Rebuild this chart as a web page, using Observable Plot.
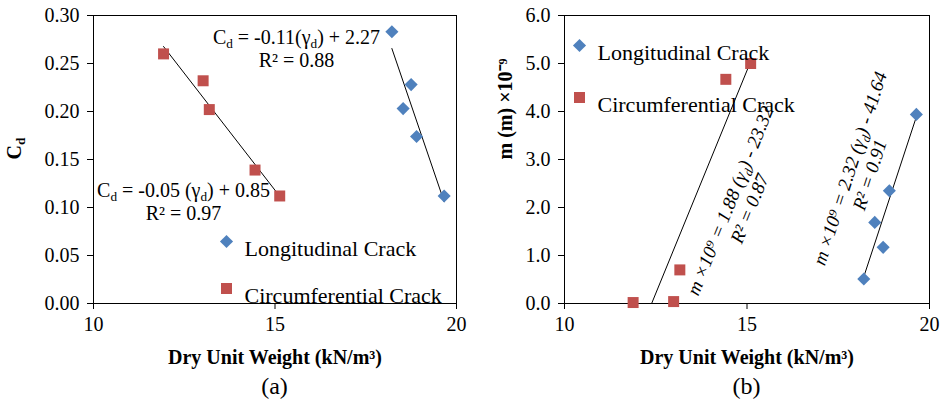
<!DOCTYPE html>
<html>
<head>
<meta charset="utf-8">
<script src="https://cdn.jsdelivr.net/npm/d3@7"></script>
<script src="https://cdn.jsdelivr.net/npm/@observablehq/plot@0.6"></script>
<style>
  html, body { margin: 0; padding: 0; background: #fff; }
  #wrap { display: flex; width: 943px; font-family: "Liberation Serif", serif; }
  #wrap svg, #wrap svg text, #wrap svg tspan { font-family: "Liberation Serif", serif !important; }
  .panel { display: flex; flex-direction: column; }
  .cap { text-align: center; font-size: 24px; line-height: 32px; color: #000; }
</style>
</head>
<body>
<div id="wrap"></div>
<script>
// ---------- data ----------
const seriesNames = ["Longitudinal Crack", "Circumferential Crack"];
const seriesColors = ["#4F81BD", "#C0504D"];
const seriesSymbols = ["diamond2", "square"];

const xTicks = [10, 15, 20];
const aYTicks = [0, 0.05, 0.10, 0.15, 0.20, 0.25, 0.30];
const bYTicks = [0, 1, 2, 3, 4, 5, 6];

// Panel (a): Cd vs dry unit weight
const aLongX = [18.22, 18.75, 18.53, 18.90, 19.66];
const aLongY = [0.283, 0.228, 0.203, 0.174, 0.112];
const aCircX = [11.93, 13.02, 13.19, 14.45, 15.13];
const aCircY = [0.260, 0.232, 0.202, 0.139, 0.112];

// Panel (b): m x 10^9 vs dry unit weight
const bLongX = [18.20, 18.50, 18.73, 18.90, 19.64];
const bLongY = [0.51, 1.69, 1.17, 2.35, 3.94];
const bCircX = [11.88, 12.99, 13.16, 14.42, 15.10];
const bCircY = [0.02, 0.04, 0.70, 4.67, 5.00];

const aEquations = ["Cd = -0.11(γd) + 2.27\nR² = 0.88", "Cd = -0.05 (γd) + 0.85\nR² = 0.97"];
const bEquations = ["m ×10⁹ = 1.88 (γd) - 23.32\nR² = 0.87", "m ×10⁹ = 2.32 (γd) - 41.64\nR² = 0.91"];

const xTitle = "Dry Unit Weight (kN/m³)";
const aYTitle = "Cd";
const bYTitle = "m (m) ×10⁻⁹";
const captions = ["(a)", "(b)"];

// ---------- helpers ----------
const FONT = '"Liberation Serif", serif';
const rows = (X, Y) => X.map((x, i) => ({x, y: Y[i]}));

function subscriptify(svg) {
  svg.querySelectorAll("text, tspan").forEach(el => {
    if (el.children.length) return;
    const s = el.textContent;
    if (!/[Cγ]d/.test(s)) return;
    const parts = s.split(/(?<=[Cγ])d/);
    el.textContent = "";
    parts.forEach((p, i) => {
      el.appendChild(document.createTextNode(p));
      if (i < parts.length - 1) {
        const t = document.createElementNS("http://www.w3.org/2000/svg", "tspan");
        t.setAttribute("baseline-shift", "-0.3em");
        t.setAttribute("font-size", "0.66em");
        t.textContent = "d";
        el.appendChild(t);
      }
    });
  });
}

function panel(cfg) {
  const long = rows(cfg.longX, cfg.longY);
  const circ = rows(cfg.circX, cfg.circY);
  const legend = seriesNames.flatMap((name, i) => [
    Plot.dot([name], {frameAnchor: "top-left", dx: cfg.legDx, dy: cfg.legDy + i * cfg.legGap,
      symbol: seriesSymbols[i], fill: seriesColors[i], r: i === 0 ? 5.9 : 6.2}),
    Plot.text([name], {frameAnchor: "top-left", dx: cfg.legDx + 18, dy: cfg.legDy - 1 + i * cfg.legGap,
      text: d => d, textAnchor: "start", fontSize: 22, fontFamily: FONT})
  ]);
  const eqs = cfg.equations.map((eq, i) =>
    Plot.text([eq], {frameAnchor: "top-left", dx: cfg.eqPos[i][0], dy: cfg.eqPos[i][1],
      text: d => d, textAnchor: "middle", lineAnchor: "middle",
      lineHeight: cfg.eqLineHeight, rotate: cfg.eqRotate[i], fontFamily: FONT,
      fontSize: cfg.eqFontSize, fontStyle: cfg.eqItalic ? "italic" : "normal"})
  );
  const svg = Plot.plot({
    width: cfg.width,
    height: 370,
    marginLeft: 93,
    marginTop: 15,
    marginRight: cfg.marginRight,
    marginBottom: 67,
    style: {fontFamily: FONT, fontSize: "20px", color: "#000", background: "#fff", overflow: "visible"},
    x: {domain: [10, 20], label: null},
    y: {domain: cfg.yDomain, label: null},
    marks: [
      Plot.axisX({ticks: xTicks, tickSize: 6, tickPadding: 7, label: null, fontSize: 20, fontFamily: FONT, tickFormat: d3.format("d")}),
      Plot.axisY({ticks: cfg.yTicks, tickSize: 6, tickPadding: 8, label: null, fontSize: 20, fontFamily: FONT, tickFormat: d3.format(cfg.yFormat)}),
      Plot.frame({stroke: "#000", strokeWidth: 1}),
      Plot.linearRegressionY(circ, {x: "x", y: "y", stroke: "#000", strokeWidth: 1, ci: 0, clip: true}),
      Plot.linearRegressionY(long, {x: "x", y: "y", stroke: "#000", strokeWidth: 1, ci: 0, clip: true}),
      Plot.dot(circ, {x: "x", y: "y", symbol: seriesSymbols[1], fill: seriesColors[1], r: 6.2}),
      Plot.dot(long, {x: "x", y: "y", symbol: seriesSymbols[0], fill: seriesColors[0], r: 5.9}),
      ...legend,
      ...eqs,
      Plot.text([xTitle], {frameAnchor: "bottom", dy: 60, lineAnchor: "bottom", text: d => d, fontWeight: "bold", fontSize: 20, fontFamily: FONT}),
      Plot.text([cfg.yTitle], {frameAnchor: "left", dx: cfg.yTitleDx, rotate: -90, lineAnchor: "middle", text: d => d, fontWeight: "bold", fontSize: 20, fontFamily: FONT})
    ]
  });
  subscriptify(svg);
  const div = document.createElement("div");
  div.className = "panel";
  div.style.width = cfg.width + "px";
  div.appendChild(svg);
  const cap = document.createElement("div");
  cap.className = "cap";
  cap.style.paddingLeft = (93 - cfg.marginRight) + "px";
  cap.textContent = cfg.caption;
  div.appendChild(cap);
  return div;
}

const wrap = document.getElementById("wrap");
wrap.appendChild(panel({
  width: 471, marginRight: 15, yDomain: [0, 0.30], yTicks: aYTicks, yFormat: ".2f",
  longX: aLongX, longY: aLongY, circX: aCircX, circY: aCircY,
  legDx: 133, legDy: 226, legGap: 47,
  equations: aEquations, eqPos: [[203, 33], [90, 186]], eqRotate: [0, 0],
  eqLineHeight: 1.15, eqFontSize: 20, eqItalic: false,
  yTitle: aYTitle, yTitleDx: -79, caption: captions[0]
}));
wrap.appendChild(panel({
  width: 472, marginRight: 14, yDomain: [0, 6], yTicks: bYTicks, yFormat: ".1f",
  longX: bLongX, longY: bLongY, circX: bCircX, circY: bCircY,
  legDx: 15, legDy: 30, legGap: 52,
  equations: bEquations, eqPos: [[175, 189], [295, 156]], eqRotate: [-68, -72],
  eqLineHeight: 1.1, eqFontSize: 19, eqItalic: true,
  yTitle: bYTitle, yTitleDx: -59, caption: captions[1]
}));
</script>
</body>
</html>
